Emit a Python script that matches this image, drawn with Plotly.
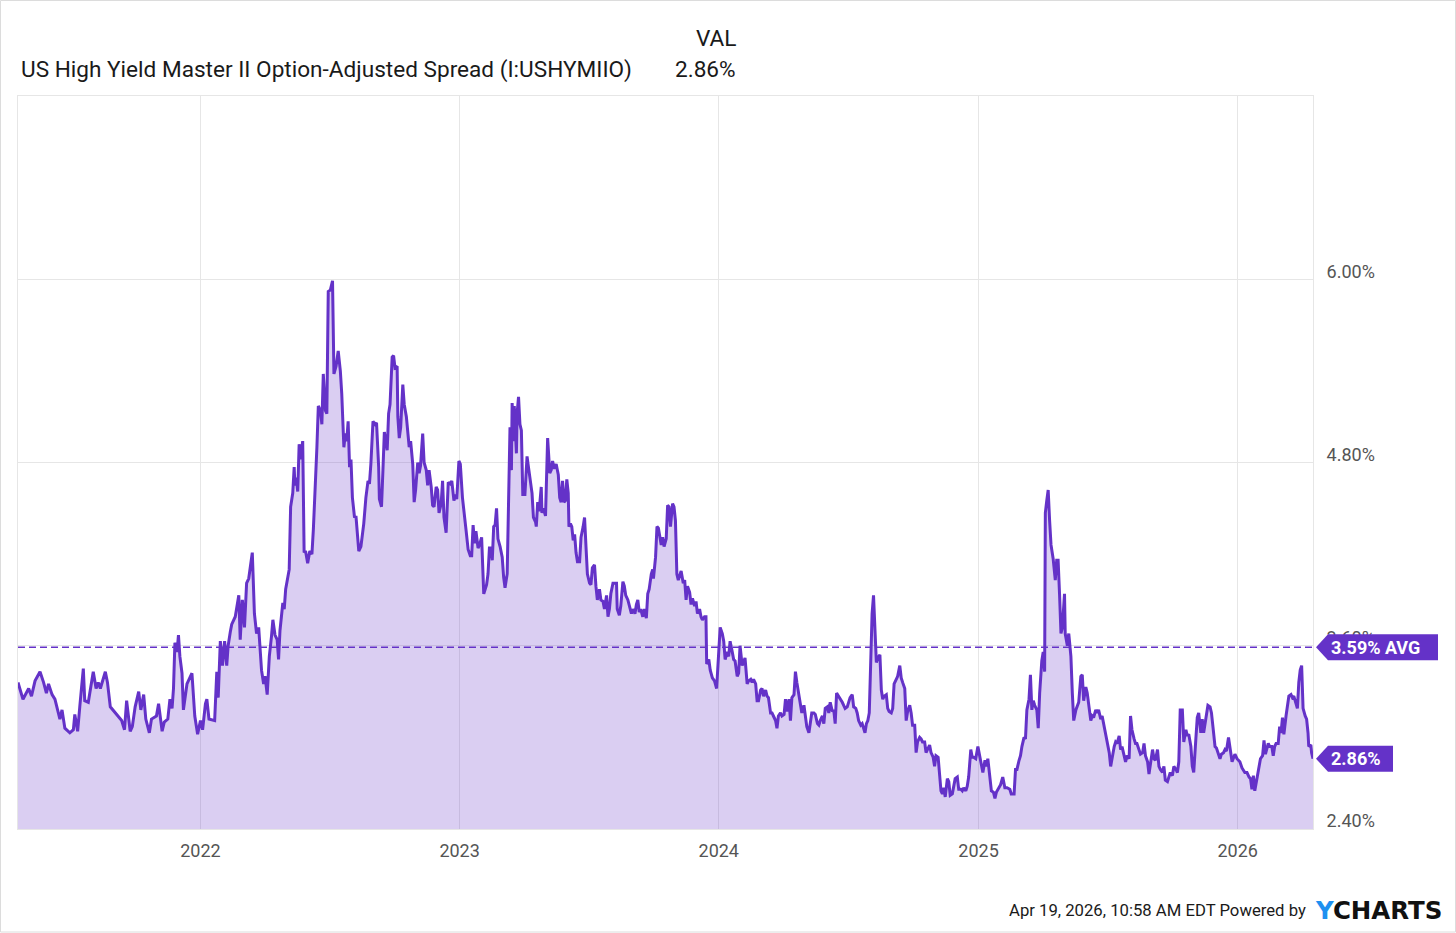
import pandas as pd
import plotly.graph_objects as go

# ---------------- data (days since START, spread in %) ----------------
START = "2021-04-19"

days_2021 = [0, 7, 15, 19, 24, 31, 36, 40, 43, 48, 52, 57, 59, 62, 66, 73, 78, 80, 84, 87,
             92, 94, 99, 106, 110, 113, 116, 123, 126, 130, 137, 141, 146, 150, 153, 158,
             161, 165, 170, 173, 177, 180, 185, 188, 195, 198, 203, 206, 211, 214, 217,
             219, 221, 224, 226, 228, 231, 233, 238, 245, 249, 253]
vals_2021 = [3.36, 3.25, 3.32, 3.27, 3.37, 3.43, 3.36, 3.29, 3.35, 3.28, 3.25, 3.16, 3.12,
             3.18, 3.06, 3.03, 3.05, 3.15, 3.04, 3.20, 3.45, 3.24, 3.23, 3.43, 3.32, 3.36,
             3.32, 3.43, 3.36, 3.20, 3.16, 3.14, 3.11, 3.05, 3.24, 3.04, 3.07, 3.20, 3.30,
             3.18, 3.28, 3.12, 3.03, 3.12, 3.14, 3.22, 3.04, 3.10, 3.12, 3.25, 3.19, 3.32,
             3.62, 3.56, 3.67, 3.53, 3.42, 3.18, 3.35, 3.42, 3.14, 3.02]

days_2022 = [257, 260, 264, 266, 269, 277, 280, 282, 285, 288, 291, 294, 296, 299, 301,
             306, 311, 313, 316, 319, 322, 325, 327, 330, 333, 336, 339, 341, 343, 346,
             348, 351, 354, 357, 359, 362, 365, 367, 369, 373, 375, 377, 380, 382, 384,
             387, 389, 390, 392, 394, 396, 398, 401, 403, 405, 408, 411, 414, 416, 419,
             421, 423, 426, 428, 430, 433, 435, 437, 440, 443, 445, 448, 451, 454, 456,
             459, 461, 463, 465, 467, 469, 471, 474, 476, 480, 483, 487, 490, 493, 495,
             497, 500, 503, 505, 508, 509, 512, 514, 516, 520, 522, 524, 527, 529, 531,
             534, 535, 537, 539, 542, 544, 547, 549, 551, 553, 556, 558, 560, 563, 565,
             567, 570, 572, 575, 577, 579, 582, 584, 586, 589, 591, 593, 596, 598, 600,
             603, 606, 609, 611, 614, 616, 618, 621]
vals_2022 = [3.11, 3.05, 3.22, 3.25, 3.12, 3.11, 3.43, 3.26, 3.63, 3.47, 3.63, 3.47, 3.60,
             3.69, 3.74, 3.79, 3.93, 3.64, 3.90, 3.72, 4.01, 4.04, 4.10, 4.21, 3.81, 3.68,
             3.72, 3.53, 3.44, 3.35, 3.40, 3.28, 3.53, 3.66, 3.77, 3.67, 3.64, 3.51, 3.70,
             3.88, 3.84, 3.97, 4.04, 4.10, 4.51, 4.60, 4.77, 4.65, 4.70, 4.61, 4.92, 4.82,
             4.94, 4.21, 4.22, 4.14, 4.22, 4.20, 4.36, 4.66, 4.90, 5.17, 5.14, 5.05, 5.38,
             5.14, 5.12, 5.92, 5.93, 5.99, 5.38, 5.43, 5.53, 5.40, 5.25, 4.90, 4.99, 4.94,
             5.07, 4.77, 4.82, 4.57, 4.44, 4.45, 4.22, 4.25, 4.40, 4.57, 4.68, 4.66, 4.79,
             5.07, 5.05, 5.06, 4.77, 4.56, 4.51, 4.75, 5.00, 4.88, 5.12, 5.18, 5.49, 5.50,
             5.42, 5.43, 5.10, 4.96, 5.03, 5.31, 5.18, 5.10, 4.99, 4.90, 4.94, 4.79, 4.54,
             4.62, 4.80, 4.73, 4.78, 4.99, 4.80, 4.75, 4.65, 4.75, 4.64, 4.52, 4.51, 4.64,
             4.62, 4.47, 4.53, 4.68, 4.44, 4.34, 4.67, 4.66, 4.68, 4.55, 4.59, 4.56, 4.81]

days_2023 = [623, 626, 629, 631, 634, 637, 639, 641, 643, 645, 648, 650, 653, 656, 658,
             660, 662, 664, 666, 668, 670, 672, 674, 676, 679, 682, 684, 686, 689, 691,
             693, 695, 696, 698, 699, 702, 703, 705, 707, 709, 711, 714, 717, 719, 722,
             724, 726, 729, 730, 732, 734, 737, 738, 740, 743, 745, 746, 749, 751, 753,
             755, 758, 761, 763, 765, 767, 769, 771, 773, 775, 776, 778, 780, 782, 784,
             786, 788, 791, 793, 796, 798, 800, 802, 805, 807, 809, 812, 814, 816, 819,
             821, 824, 826, 829, 831, 833, 835, 838, 840, 843, 844, 847, 849, 852, 854,
             856, 859, 862, 864, 866, 869, 871, 873, 875, 877, 880, 882, 885, 887, 889,
             892, 894, 895, 898, 900, 902, 904, 906, 908, 910, 913, 915, 917, 919, 922,
             924, 926, 928, 930, 932, 934, 937, 939, 941, 943, 946, 948, 950, 953, 955,
             957, 960, 962, 964, 967, 969, 970, 973, 975, 978, 981, 984]
vals_2023 = [4.79, 4.57, 4.42, 4.36, 4.23, 4.19, 4.19, 4.39, 4.27, 4.35, 4.24, 4.26, 4.31,
             3.94, 3.97, 4.00, 4.07, 4.24, 4.24, 4.16, 4.38, 4.39, 4.50, 4.30, 4.25, 4.18,
             4.05, 3.98, 4.07, 4.51, 5.03, 4.75, 5.19, 4.94, 5.17, 4.86, 5.12, 5.23, 5.05,
             5.01, 4.59, 4.59, 4.84, 4.77, 4.68, 4.60, 4.44, 4.41, 4.38, 4.54, 4.48, 4.64,
             4.47, 4.50, 4.45, 4.73, 4.96, 4.73, 4.75, 4.81, 4.76, 4.79, 4.72, 4.57, 4.54,
             4.68, 4.54, 4.55, 4.69, 4.60, 4.38, 4.40, 4.38, 4.29, 4.33, 4.21, 4.15, 4.15,
             4.31, 4.38, 4.44, 4.25, 4.07, 4.01, 4.00, 4.11, 4.13, 3.99, 3.90, 3.97, 3.90,
             3.89, 3.84, 3.93, 3.79, 3.84, 3.94, 4.01, 4.01, 4.01, 3.84, 3.80, 3.86, 4.02,
             3.99, 3.93, 3.90, 3.85, 3.81, 3.84, 3.81, 3.87, 3.90, 3.82, 3.84, 3.79, 3.84,
             3.78, 3.94, 3.97, 4.07, 4.10, 4.04, 4.18, 4.38, 4.37, 4.31, 4.26, 4.31, 4.25,
             4.30, 4.52, 4.51, 4.38, 4.53, 4.51, 4.42, 4.07, 4.03, 4.06, 4.09, 4.01, 4.03,
             3.90, 3.99, 3.95, 3.87, 3.91, 3.86, 3.89, 3.81, 3.84, 3.79, 3.77, 3.79, 3.79,
             3.48, 3.51, 3.44, 3.39, 3.37, 3.32]

days_2024 = [987, 989, 992, 994, 996, 999, 1001, 1003, 1006, 1008, 1010, 1013, 1015, 1017,
             1020, 1022, 1024, 1027, 1029, 1032, 1034, 1036, 1039, 1041, 1043, 1046, 1048,
             1050, 1053, 1055, 1057, 1060, 1062, 1064, 1067, 1069, 1071, 1074, 1076, 1079,
             1081, 1083, 1086, 1088, 1090, 1093, 1095, 1097, 1100, 1102, 1104, 1107, 1109,
             1111, 1114, 1116, 1118, 1121, 1123, 1126, 1128, 1130, 1133, 1135, 1137, 1140,
             1142, 1144, 1147, 1149, 1151, 1153, 1156, 1158, 1161, 1163, 1165, 1168, 1170,
             1172, 1175, 1177, 1180, 1182, 1184, 1187, 1189, 1191, 1193, 1195, 1197, 1199,
             1201, 1203, 1205, 1207, 1209, 1211, 1214, 1216, 1218, 1220, 1223, 1225, 1227,
             1230, 1232, 1234, 1237, 1239, 1242, 1244, 1246, 1249, 1251, 1253, 1256, 1258,
             1260, 1263, 1265, 1267, 1270, 1272, 1274, 1277, 1279, 1281, 1284, 1286, 1289,
             1291, 1293, 1296, 1298, 1300, 1302, 1304, 1306, 1309, 1311, 1313, 1316, 1318,
             1320, 1323, 1325, 1328, 1330, 1332, 1335, 1337, 1339, 1342, 1344, 1346, 1349,
             1352]
vals_2024 = [3.53, 3.72, 3.68, 3.63, 3.51, 3.56, 3.53, 3.63, 3.56, 3.51, 3.50, 3.40, 3.42,
             3.60, 3.47, 3.50, 3.52, 3.35, 3.37, 3.38, 3.36, 3.38, 3.35, 3.24, 3.24, 3.31,
             3.32, 3.27, 3.31, 3.27, 3.26, 3.16, 3.16, 3.14, 3.11, 3.06, 3.14, 3.16, 3.14,
             3.15, 3.25, 3.17, 3.25, 3.11, 3.26, 3.28, 3.43, 3.36, 3.27, 3.19, 3.16, 3.21,
             3.12, 3.07, 3.03, 3.09, 3.16, 3.16, 3.15, 3.09, 3.08, 3.11, 3.14, 3.09, 3.19,
             3.20, 3.16, 3.23, 3.17, 3.18, 3.09, 3.29, 3.27, 3.25, 3.23, 3.21, 3.19, 3.20,
             3.23, 3.26, 3.28, 3.20, 3.19, 3.16, 3.11, 3.08, 3.09, 3.06, 3.03, 3.09, 3.11,
             3.16, 3.51, 3.81, 3.93, 3.70, 3.49, 3.52, 3.54, 3.31, 3.25, 3.27, 3.28, 3.19,
             3.17, 3.16, 3.19, 3.35, 3.38, 3.40, 3.47, 3.39, 3.36, 3.32, 3.11, 3.17, 3.21,
             3.16, 3.08, 3.08, 2.90, 2.97, 3.00, 2.99, 2.97, 2.97, 2.90, 2.92, 2.95, 2.90,
             2.87, 2.81, 2.88, 2.87, 2.78, 2.65, 2.63, 2.67, 2.61, 2.73, 2.71, 2.62, 2.63,
             2.67, 2.73, 2.74, 2.66, 2.66, 2.65, 2.67, 2.65, 2.68, 2.74, 2.92, 2.87, 2.87,
             2.86, 2.94]

days_2025 = [1356, 1359, 1362, 1364, 1366, 1369, 1371, 1374, 1376, 1378, 1381, 1384, 1387,
             1390, 1393, 1397, 1399, 1403, 1405, 1407, 1410, 1412, 1414, 1417, 1419, 1421,
             1424, 1426, 1428, 1430, 1432, 1435, 1437, 1439, 1442, 1444, 1446, 1447, 1449,
             1451, 1453, 1455, 1458, 1459, 1461, 1463, 1465, 1467, 1469, 1471, 1474, 1475,
             1478, 1480, 1483, 1485, 1487, 1490, 1492, 1494, 1497, 1499, 1501, 1504, 1506,
             1508, 1511, 1513, 1515, 1518, 1520, 1522, 1525, 1527, 1530, 1532, 1534, 1537,
             1539, 1541, 1544, 1546, 1548, 1551, 1553, 1555, 1558, 1560, 1562, 1565, 1567,
             1569, 1572, 1574, 1576, 1579, 1581, 1584, 1586, 1588, 1591, 1593, 1595, 1598,
             1600, 1602, 1605, 1607, 1609, 1612, 1614, 1616, 1619, 1621, 1623, 1626, 1628,
             1631, 1633, 1635, 1637, 1640, 1642, 1645, 1647, 1649, 1652, 1654, 1656, 1659,
             1661, 1663, 1666, 1668, 1670, 1673, 1676, 1679, 1681, 1684, 1686, 1688, 1691,
             1693, 1695, 1698, 1700, 1702, 1705, 1708, 1710, 1714, 1717]
vals_2025 = [2.84, 2.77, 2.85, 2.81, 2.86, 2.73, 2.65, 2.64, 2.60, 2.64, 2.67, 2.69, 2.74,
             2.67, 2.67, 2.66, 2.63, 2.63, 2.79, 2.79, 2.85, 2.88, 2.94, 3.00, 2.99, 3.18,
             3.25, 3.41, 3.18, 3.24, 3.21, 3.18, 3.06, 3.29, 3.50, 3.56, 3.43, 4.47, 4.55,
             4.62, 4.42, 4.26, 4.17, 4.10, 4.03, 4.16, 4.16, 3.94, 3.68, 3.72, 3.94, 3.68,
             3.60, 3.68, 3.53, 3.29, 3.11, 3.18, 3.21, 3.23, 3.40, 3.41, 3.24, 3.33, 3.29,
             3.21, 3.11, 3.14, 3.13, 3.18, 3.16, 3.18, 3.12, 3.14, 3.06, 3.03, 2.97, 2.90,
             2.81, 2.87, 2.94, 2.97, 2.96, 3.01, 2.92, 2.94, 2.88, 2.84, 2.88, 2.86, 3.14,
             3.05, 2.99, 2.96, 2.96, 2.92, 2.89, 2.90, 2.96, 2.88, 2.84, 2.76, 2.84, 2.92,
             2.86, 2.85, 2.92, 2.81, 2.79, 2.77, 2.81, 2.72, 2.71, 2.75, 2.77, 2.75, 2.81,
             2.79, 2.77, 2.84, 3.18, 3.18, 2.97, 3.05, 3.01, 3.02, 2.94, 2.81, 2.77, 2.99,
             3.13, 3.16, 3.03, 3.12, 3.03, 3.12, 3.21, 3.20, 3.16, 3.03, 2.94, 2.93, 2.89,
             2.86, 2.89, 2.90, 2.92, 2.91, 3.00, 2.90, 2.84, 2.89, 2.86]

days_2026 = [1721, 1724, 1728, 1731, 1734, 1736, 1738, 1740, 1742, 1745, 1748, 1750, 1753,
             1755, 1757, 1759, 1761, 1763, 1766, 1768, 1770, 1772, 1775, 1777, 1779, 1781,
             1783, 1786, 1788, 1790, 1793, 1795, 1797, 1800, 1802, 1804, 1806, 1808, 1809,
             1810, 1813, 1815, 1817, 1818, 1821, 1822, 1824]
vals_2026 = [2.84, 2.80, 2.77, 2.77, 2.74, 2.73, 2.66, 2.75, 2.65, 2.72, 2.81, 2.86, 2.88,
             2.98, 2.89, 2.93, 2.96, 2.94, 2.94, 2.88, 2.94, 2.96, 2.96, 3.07, 3.03, 3.13,
             3.02, 3.14, 3.20, 3.27, 3.28, 3.26, 3.27, 3.23, 3.19, 3.36, 3.44, 3.47, 3.27,
             3.19, 3.14, 3.12, 3.03, 2.94, 2.95, 2.90, 2.86]

AVG = 3.59
year_ticks = ["2022-01-01", "2023-01-01", "2024-01-01", "2025-01-01", "2026-01-01"]
year_labels = ["2022", "2023", "2024", "2025", "2026"]
y_ticks = [2.40, 3.60, 4.80, 6.00]
y_labels = ["2.40%", "3.60%", "4.80%", "6.00%"]
series_name = "US High Yield Master II Option-Adjusted Spread (I:USHYMIIO)"

days = days_2021 + days_2022 + days_2023 + days_2024 + days_2025 + days_2026
vals = vals_2021 + vals_2022 + vals_2023 + vals_2024 + vals_2025 + vals_2026
dates = pd.Timestamp(START) + pd.to_timedelta(days, unit="D")
LAST = vals[-1]

# ---------------- styling ----------------
PURPLE = "#6432c8"
FILL = "rgba(100,50,200,0.24)"
GRID = "#e6e6e6"
TICK = "#555555"
FONT = "Roboto"

W, H = 1456, 933
L, R, T, B = 18, 143, 96, 104
PW, PH = W - L - R, H - T - B


def fx(px):
    return (px - L) / PW


def fy(py):
    return (H - B - py) / PH


fig = go.Figure()
fig.add_trace(go.Scatter(
    x=dates, y=vals, mode="lines",
    line=dict(color=PURPLE, width=3),
    fill="tozeroy", fillcolor=FILL,
    hoverinfo="skip", showlegend=False,
))

shapes = [
    dict(type="line", xref="paper", yref="y", x0=0, x1=1, y0=AVG, y1=AVG,
         line=dict(color=PURPLE, width=1.6, dash="7px,4px"), layer="above"),
    dict(type="path", xref="paper", yref="y", xsizemode="pixel", ysizemode="pixel",
         xanchor=1, yanchor=AVG, path="M3,0 L15,13 L125,13 L125,-13 L15,-13 Z",
         fillcolor=PURPLE, line=dict(width=0), layer="above"),
    dict(type="path", xref="paper", yref="y", xsizemode="pixel", ysizemode="pixel",
         xanchor=1, yanchor=LAST, path="M3,0 L15,13 L80,13 L80,-13 L15,-13 Z",
         fillcolor=PURPLE, line=dict(width=0), layer="above"),
    dict(type="rect", xref="paper", yref="paper", x0=fx(0.5), x1=fx(W - 0.5),
         y0=fy(H - 1), y1=fy(0.5), line=dict(color="#dcdcdc", width=1),
         fillcolor="rgba(0,0,0,0)", layer="below"),
]

annotations = [
    dict(text=series_name, xref="paper", yref="paper", x=fx(19), y=fy(70),
         xanchor="left", yanchor="middle", showarrow=False,
         font=dict(family=FONT, size=22.6, color="#1a1a1a")),
    dict(text="VAL", xref="paper", yref="paper", x=fx(738), y=fy(39),
         xanchor="right", yanchor="middle", showarrow=False,
         font=dict(family=FONT, size=22.6, color="#1a1a1a")),
    dict(text=f"{LAST:.2f}%", xref="paper", yref="paper", x=fx(738), y=fy(70),
         xanchor="right", yanchor="middle", showarrow=False,
         font=dict(family=FONT, size=22.6, color="#1a1a1a")),
    dict(text=f"<b>{AVG:.2f}% AVG</b>", xref="paper", yref="y", x=1, y=AVG,
         xanchor="left", yanchor="middle", xshift=16, showarrow=False,
         font=dict(family=FONT, size=18, color="white")),
    dict(text=f"<b>{LAST:.2f}%</b>", xref="paper", yref="y", x=1, y=LAST,
         xanchor="left", yanchor="middle", xshift=16, showarrow=False,
         font=dict(family=FONT, size=18, color="white")),
    dict(text="Apr 19, 2026, 10:58 AM EDT Powered by", xref="paper", yref="paper",
         x=fx(1308), y=fy(911), xanchor="right", yanchor="middle", showarrow=False,
         font=dict(family=FONT, size=16.7, color="#1a1a1a")),
    dict(text="<span style='color:#1e90f0'>Y</span>CHARTS", xref="paper", yref="paper",
         x=fx(1313), y=fy(911), xanchor="left", yanchor="middle", showarrow=False,
         font=dict(family="DejaVu Sans", size=24.5, color="#111111", weight="bold")),
]

fig.update_layout(
    width=W, height=H,
    margin=dict(l=L, r=R, t=T, b=B, pad=0),
    paper_bgcolor="white", plot_bgcolor="white",
    font=dict(family=FONT, size=18, color=TICK),
    shapes=shapes, annotations=annotations,
    showlegend=False,
    xaxis=dict(
        type="date", range=[dates[0], dates[-1]],
        tickmode="array", tickvals=year_ticks, ticktext=year_labels,
        showgrid=True, gridcolor=GRID, gridwidth=1,
        showline=True, linecolor=GRID, mirror=True,
        ticks="", ticklabelstandoff=5, zeroline=False,
        tickfont=dict(family=FONT, size=18, color=TICK),
    ),
    yaxis=dict(
        side="right", range=[2.4, 7.2],
        tickmode="array", tickvals=y_ticks, ticktext=y_labels,
        showgrid=True, gridcolor=GRID, gridwidth=1,
        showline=True, linecolor=GRID, mirror=True,
        ticks="", ticklabelshift=-8, ticklabelstandoff=9,
        zeroline=False,
        tickfont=dict(family=FONT, size=18, color=TICK),
    ),
)

fig.write_html("out.html", config={"displayModeBar": False},
               post_script="document.body.style.margin='0';document.body.style.overflow='hidden';")
